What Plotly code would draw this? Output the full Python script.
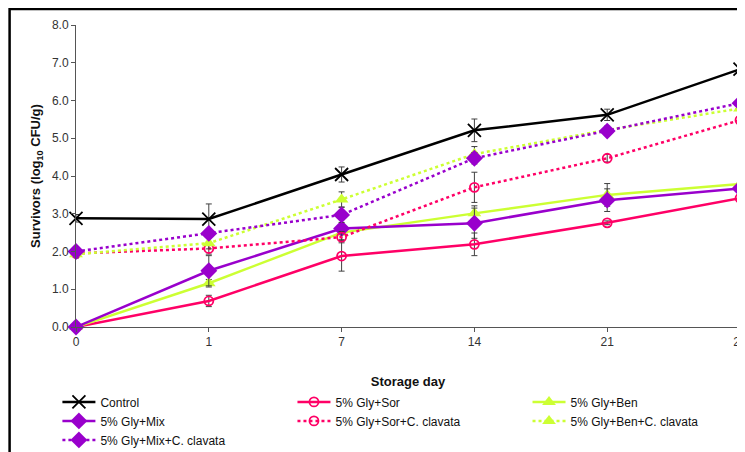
import plotly.graph_objects as go

days = ["0", "1", "7", "14", "21", "28"]

control = [2.88, 2.86, 4.04, 5.21, 5.62, 6.83]
control_err = [0.1, 0.4, 0.2, 0.3, 0.15, 0.3]
sor = [0.0, 0.69, 1.88, 2.19, 2.76, 3.41]
sor_err = [0.05, 0.15, 0.4, 0.3, 0.05, 0.15]
ben = [0.0, 1.16, 2.50, 3.01, 3.50, 3.79]
ben_err = [0.05, 0.1, 0.2, 0.2, 0.3, 0.1]
mix = [0.0, 1.49, 2.61, 2.75, 3.36, 3.67]
mix_err = [0.05, 0.4, 0.3, 0.4, 0.3, 0.1]
sor_cc = [1.95, 2.08, 2.38, 3.70, 4.47, 5.48]
sor_cc_err = [0.1, 0.15, 0.15, 0.4, 0.1, 0.1]
ben_cc = [1.93, 2.22, 3.38, 4.58, 5.22, 5.79]
ben_cc_err = [0.1, 0.15, 0.2, 0.2, 0.1, 0.1]
mix_cc = [2.0, 2.48, 2.97, 4.47, 5.19, 5.93]
mix_cc_err = [0.1, 0.1, 0.2, 0.15, 0.1, 0.2]

BLACK = "#000000"
PINK = "#FF0066"
LIME = "#CCFF33"
PURPLE = "#9900CC"

# (name, values, errors, colour, dash, symbol, size, legend column)
series = [
    ("Control", control, control_err, BLACK, "solid", "x-thin-open", 13, "legend"),
    ("5% Gly+Sor", sor, sor_err, PINK, "solid", "circle-open", 9, "legend2"),
    ("5% Gly+Ben", ben, ben_err, LIME, "solid", "triangle-up", 12, "legend3"),
    ("5% Gly+Mix", mix, mix_err, PURPLE, "solid", "diamond", 13, "legend"),
    ("5% Gly+Sor+C. clavata", sor_cc, sor_cc_err, PINK, "dot", "circle-open", 9, "legend2"),
    ("5% Gly+Ben+C. clavata", ben_cc, ben_cc_err, LIME, "dot", "triangle-up", 12, "legend3"),
    ("5% Gly+Mix+C. clavata", mix_cc, mix_cc_err, PURPLE, "dot", "diamond", 13, "legend"),
]

fig = go.Figure()
for name, vals, err, col, dash, sym, size, leg in series:
    fig.add_trace(go.Scatter(
        x=days, y=vals, name=name, mode="lines+markers", legend=leg,
        line=dict(color=col, width=2.5, dash=dash),
        marker=dict(symbol=sym, size=size, color=col,
                    line=dict(color=col, width=1.8 if "open" in sym else 0)),
        error_y=dict(type="data", array=err, visible=True,
                     color="#404040", thickness=1, width=3),
        cliponaxis=False,
    ))

leg_common = dict(
    orientation="v", xanchor="left", yanchor="top", y=-0.20,
    font=dict(size=12, color="#111"), bgcolor="rgba(0,0,0,0)",
    itemwidth=33, traceorder="normal",
)

fig.update_layout(
    width=745, height=452,
    margin=dict(l=68, r=13, t=17, b=133, autoexpand=False),
    paper_bgcolor="white", plot_bgcolor="white",
    font=dict(family="Arial, Liberation Sans, sans-serif", size=11, color="#222"),
    showlegend=True,
    legend=dict(x=-0.028, **leg_common),
    legend2=dict(x=0.326, **leg_common),
    legend3=dict(x=0.680, **leg_common),
    xaxis=dict(
        type="category", range=[0, 5],
        showline=True, linecolor="#555", linewidth=1,
        ticks="outside", ticklen=4, tickcolor="#555",
        showgrid=False, zeroline=False,
        tickfont=dict(size=12, color="#333"),
        title=dict(text="<b>Storage day</b>", font=dict(size=13, color="#111"), standoff=28),
    ),
    yaxis=dict(
        range=[0, 8], dtick=1, tickformat=".1f",
        showline=True, linecolor="#555", linewidth=1,
        ticks="outside", ticklen=4, tickcolor="#555",
        showgrid=False, zeroline=False,
        tickfont=dict(size=12, color="#333"),
        title=dict(text="<b>Survivors (log<sub>10</sub> CFU/g)</b>", font=dict(size=13, color="#111"), standoff=8),
    ),
    shapes=[dict(
        type="rect", xref="paper", yref="paper",
        x0=-0.1, x1=1.05, y0=-0.5, y1=1.053,
        line=dict(color="black", width=2.5), fillcolor="rgba(0,0,0,0)",
        layer="below",
    )],
)

fig.write_html("out.html")
